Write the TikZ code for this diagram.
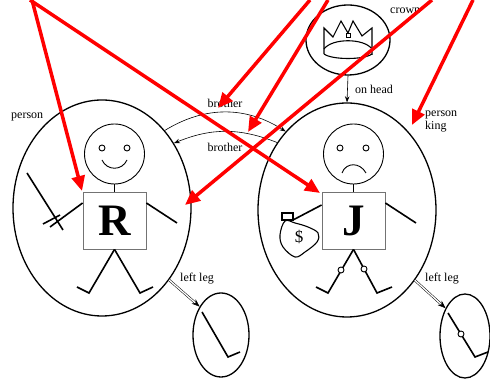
\documentclass[tikz,border=0pt]{standalone}
\usepackage{fontspec}
\setmainfont{Liberation Serif}
\usetikzlibrary{shapes.geometric,arrows.meta}
\begin{document}
\begin{tikzpicture}[x=1pt,y=1pt,
  ell/.style={draw, ellipse, line width=1.3pt, inner sep=0pt},
  lbl/.style={font=\fontsize{12}{13}\selectfont, inner sep=0pt},
  limb/.style={line width=1.6pt},
  thinline/.style={line width=0.9pt},
  headc/.style={draw, circle, line width=0.9pt, minimum size=60pt, inner sep=0pt},
  letterbox/.style={draw=black!55, line width=0.8pt, fill=white, minimum width=63pt, minimum height=57pt, inner sep=0pt, font=\fontsize{45}{45}\selectfont\bfseries},
  relarrow/.style={line width=0.6pt, -{Stealth[length=6pt,width=4.5pt]}},
  partarrow/.style={double, double distance=1.3pt, line width=0.5pt, -{Stealth[length=8pt,width=6pt]}},
  redarrow/.style={draw=red, line width=3.5pt, -{Triangle[length=15pt,width=13pt]}}]
\useasboundingbox (0,0) rectangle (490,379);

% ---- main ellipses
\node[ell, minimum width=178pt, minimum height=216pt] (R) at (102,171) {};
\node[ell, minimum width=178pt, minimum height=214pt] (J) at (347,169) {};
\node[ell, minimum width=84pt, minimum height=70pt] (C) at (348,339) {};
\node[ell, minimum width=56pt, minimum height=84pt] (RL) at (221,44) {};
\node[ell, minimum width=50pt, minimum height=84pt] (JL) at (465,43) {};

% ---- labels
\node[lbl, anchor=west] (lperson) at (11,262) {person};
\node[lbl, anchor=north west, align=left] (lking) at (425,268) {person\\king};
\node[lbl, anchor=west] (lcrown) at (390,368) {crown};
\node[lbl, anchor=west] (lhead) at (355,290) {on head};
\node[lbl] (lbro1) at (225,276) {brother};
\node[lbl] (lbro2) at (225,232) {brother};
\node[lbl, anchor=west] (lleg1) at (180,100) {left leg};
\node[lbl, anchor=west] (lleg2) at (425,100) {left leg};

% ---- relations
\draw[relarrow] (C.south) -- (J.north);
\draw[relarrow] (R.51) to[bend left=32] (J.128);
\draw[relarrow] (J.136) to[bend right=22] (R.42);
\draw[partarrow] (R.-47) -- (RL.127);
\draw[partarrow] (J.-46) -- (JL.125);

% ---- Richard
\node[headc] (Rhead) at (114.5,225) {};
\draw[thinline] (102,231) circle (3) (127,231) circle (3);
\draw[thinline] (102,219) .. controls (107,208) and (122,208) .. (127,219);
\node[letterbox] (Rbox) at (114.5,158.5) {R};
\draw[thinline] (Rhead.south) -- (Rbox.north);
\coordinate (Rarml) at (50,152);
\coordinate (Rarmr) at (177,156);
\draw[limb] (Rbox.west |- 0,176) -- (Rarml);
\draw[limb] (Rbox.east |- 0,176) -- (Rarmr);
\draw[limb] (27,206) -- (63,149);
\draw[limb] (43,155) -- (60,164);
\draw[limb] (Rbox.south) -- (89,86) -- (77,92);
\draw[limb] (Rbox.south) -- (140,86) -- (153,92);
\draw[limb] (202,67) -- (228,22) -- (240,27);

% ---- John
\node[headc] (Jhead) at (353.5,225) {};
\draw[thinline] (340,231) circle (3) (366,231) circle (3);
\draw[thinline] (342,206) .. controls (346,217) and (360,217) .. (366,206);
\node[letterbox] (Jbox) at (353.5,158.5) {J};
\draw[thinline] (Jhead.south) -- (Jbox.north);
\coordinate (Jarml) at (293,159);
\coordinate (Jarmr) at (416,156);
\draw[limb] (Jbox.west |- 0,174) -- (Jarml);
\draw[limb] (Jbox.east |- 0,176) -- (Jarmr);
\draw[limb] (Jbox.south) -- (328,86) -- (316,92);
\draw[limb] (Jbox.south) -- (377,86) -- (392,92);
\draw[thinline, fill=white] (341,109) circle (3) (364,110) circle (3);
\draw[limb] (448,66) -- (475,22) -- (488,27);
\draw[thinline, fill=white] (461,45) circle (3);
% money bag
\draw[line width=1.1pt] (282,159) rectangle (293,166);
\draw[line width=1.1pt] plot[smooth cycle, tension=0.6] coordinates {(285,158) (280,144) (283,132) (295,122) (305,127) (317,137) (318,146) (308,152) (295,156)};
\node[font=\fontsize{17}{17}\selectfont, inner sep=0pt] (dollar) at (299,142) {\$};

% ---- crown
\draw[line width=1.1pt, line join=miter] (324,325) -- (324,351) -- (333,342) -- (341,358) -- (348,346) -- (353,358) -- (362,343) -- (372,351) -- (372,324);
\draw[line width=0.9pt] (346,342) rectangle (350,346);
\draw[line width=1.1pt] (324,330) .. controls (332,341) and (364,341) .. (372,330);
\draw[line width=1.1pt] (324,325) .. controls (332,319) and (364,319) .. (372,325);

% ---- red pointer arrows
\coordinate (s1) at (32,379);  \coordinate (t1) at (82,188);
\coordinate (s2) at (30,379);  \coordinate (t2) at (320,186);
\coordinate (s3) at (310,379); \coordinate (t3) at (218,271);
\coordinate (s4) at (328,379); \coordinate (t4) at (248,247);
\coordinate (s5) at (473,379); \coordinate (t5) at (412,254);
\coordinate (s6) at (432,379); \coordinate (t6) at (185,174);
\draw[redarrow] (s1) -- (t1);
\draw[redarrow] (s2) -- (t2);
\draw[redarrow] (s3) -- (t3);
\draw[redarrow] (s4) -- (t4);
\draw[redarrow] (s5) -- (t5);
\draw[redarrow] (s6) -- (t6);
\end{tikzpicture}
\end{document}
